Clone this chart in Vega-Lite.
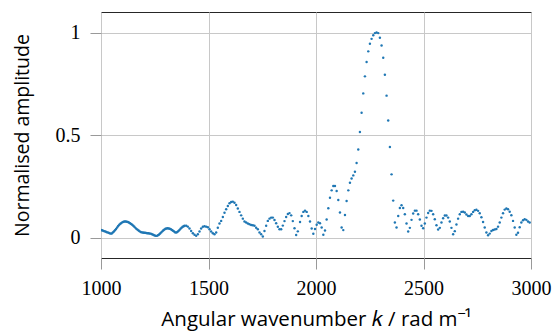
{
"$schema": "https://vega.github.io/schema/vega-lite/v6.json",
"width": 430, "height": 246,
"autosize": "none",
"padding": {"left": 101, "top": 12, "right": 25, "bottom": 75},
"background": "white",
"config": {"view": {"stroke": "#262626", "strokeWidth": 1}},
"data": {"values": [
{"k":1000,"a":0.037},{"k":1005,"a":0.035},{"k":1010,"a":0.033},{"k":1015,"a":0.031},{"k":1020,"a":0.029},{"k":1025,"a":0.027},{"k":1030,"a":0.025},{"k":1035,"a":0.023},{"k":1040,"a":0.021},{"k":1045,"a":0.019},
{"k":1050,"a":0.020},{"k":1055,"a":0.024},{"k":1060,"a":0.029},{"k":1065,"a":0.035},{"k":1070,"a":0.042},{"k":1075,"a":0.049},{"k":1080,"a":0.056},{"k":1085,"a":0.062},{"k":1090,"a":0.067},{"k":1095,"a":0.071},
{"k":1100,"a":0.075},{"k":1105,"a":0.077},{"k":1110,"a":0.078},{"k":1115,"a":0.078},{"k":1120,"a":0.077},{"k":1125,"a":0.076},{"k":1130,"a":0.073},{"k":1135,"a":0.070},{"k":1140,"a":0.066},{"k":1145,"a":0.062},
{"k":1150,"a":0.057},{"k":1155,"a":0.052},{"k":1160,"a":0.047},{"k":1165,"a":0.042},{"k":1170,"a":0.038},{"k":1175,"a":0.034},{"k":1180,"a":0.030},{"k":1185,"a":0.027},{"k":1190,"a":0.025},{"k":1195,"a":0.024},
{"k":1200,"a":0.023},{"k":1205,"a":0.023},{"k":1210,"a":0.022},{"k":1215,"a":0.021},{"k":1220,"a":0.021},{"k":1225,"a":0.020},{"k":1230,"a":0.019},{"k":1235,"a":0.017},{"k":1240,"a":0.015},{"k":1245,"a":0.012},
{"k":1250,"a":0.010},{"k":1255,"a":0.008},{"k":1260,"a":0.008},{"k":1265,"a":0.011},{"k":1270,"a":0.015},{"k":1275,"a":0.020},{"k":1280,"a":0.025},{"k":1285,"a":0.030},{"k":1290,"a":0.035},{"k":1295,"a":0.039},
{"k":1300,"a":0.043},{"k":1305,"a":0.044},{"k":1310,"a":0.045},{"k":1315,"a":0.044},{"k":1320,"a":0.043},{"k":1325,"a":0.040},{"k":1330,"a":0.037},{"k":1335,"a":0.033},{"k":1340,"a":0.029},{"k":1345,"a":0.025},
{"k":1350,"a":0.024},{"k":1355,"a":0.027},{"k":1360,"a":0.032},{"k":1365,"a":0.037},{"k":1370,"a":0.043},{"k":1375,"a":0.048},{"k":1380,"a":0.052},{"k":1385,"a":0.055},
{"k":1388.4,"a":0.057},{"k":1396.2,"a":0.057},{"k":1403.9,"a":0.053},{"k":1411.7,"a":0.044},{"k":1419.4,"a":0.032},{"k":1427.2,"a":0.021},{"k":1434.9,"a":0.013},{"k":1442.7,"a":0.008},{"k":1450.4,"a":0.016},{"k":1458.2,"a":0.029},
{"k":1465.9,"a":0.044},{"k":1473.7,"a":0.052},{"k":1481.4,"a":0.055},{"k":1489.2,"a":0.053},{"k":1496.9,"a":0.050},{"k":1504.7,"a":0.040},{"k":1512.4,"a":0.029},{"k":1520.2,"a":0.021},{"k":1527.9,"a":0.016},{"k":1535.7,"a":0.024},
{"k":1543.4,"a":0.048},{"k":1551.2,"a":0.068},{"k":1558.9,"a":0.081},{"k":1566.7,"a":0.100},{"k":1574.4,"a":0.121},{"k":1582.2,"a":0.138},{"k":1589.9,"a":0.154},{"k":1597.7,"a":0.167},{"k":1605.4,"a":0.173},{"k":1613.2,"a":0.175},
{"k":1620.9,"a":0.170},{"k":1628.7,"a":0.159},{"k":1636.4,"a":0.141},{"k":1644.2,"a":0.125},{"k":1651.9,"a":0.108},{"k":1659.7,"a":0.092},{"k":1667.4,"a":0.078},{"k":1675.2,"a":0.073},{"k":1682.9,"a":0.068},{"k":1690.7,"a":0.065},
{"k":1698.4,"a":0.061},{"k":1706.2,"a":0.060},{"k":1713.9,"a":0.057},{"k":1721.7,"a":0.048},{"k":1729.4,"a":0.040},{"k":1737.2,"a":0.024},{"k":1744.9,"a":0.016},{"k":1752.7,"a":0.005},{"k":1760.4,"a":0.032},{"k":1768.2,"a":0.057},
{"k":1775.9,"a":0.081},{"k":1783.7,"a":0.092},{"k":1791.4,"a":0.097},{"k":1799.2,"a":0.097},
{"k":1807.0,"a":0.085},{"k":1814.7,"a":0.070},{"k":1822.5,"a":0.052},{"k":1830.2,"a":0.040},{"k":1838.0,"a":0.040},{"k":1845.7,"a":0.058},{"k":1853.5,"a":0.080},{"k":1861.2,"a":0.100},{"k":1869.0,"a":0.115},{"k":1876.7,"a":0.119},
{"k":1884.5,"a":0.108},{"k":1892.2,"a":0.080},{"k":1900.0,"a":0.045},{"k":1907.7,"a":0.012},{"k":1915.5,"a":0.030},
{"k":1925.7,"a":0.076},{"k":1933.4,"a":0.105},{"k":1941.2,"a":0.125},{"k":1948.9,"a":0.131},{"k":1956.7,"a":0.125},{"k":1964.4,"a":0.105},{"k":1972.1,"a":0.078},{"k":1979.9,"a":0.044},{"k":1987.6,"a":0.018},{"k":1995.4,"a":0.041},
{"k":2003.1,"a":0.062},{"k":2010.8,"a":0.073},{"k":2018.6,"a":0.070},{"k":2026.3,"a":0.049},{"k":2034.1,"a":0.013},{"k":2041.8,"a":0.034},{"k":2049.5,"a":0.088},{"k":2057.3,"a":0.143},{"k":2065.0,"a":0.194},{"k":2072.8,"a":0.230},
{"k":2080.5,"a":0.251},{"k":2088.2,"a":0.251},{"k":2096.0,"a":0.227},{"k":2103.7,"a":0.183},{"k":2111.5,"a":0.122},{"k":2119.2,"a":0.049},{"k":2126.9,"a":0.036},{"k":2134.7,"a":0.110},{"k":2142.4,"a":0.178},{"k":2150.2,"a":0.230},
{"k":2157.9,"a":0.267},{"k":2165.6,"a":0.288},{"k":2173.4,"a":0.303},{"k":2181.1,"a":0.321},{"k":2188.9,"a":0.363},{"k":2196.6,"a":0.429},{"k":2204.3,"a":0.515},{"k":2212.1,"a":0.609},{"k":2219.8,"a":0.703},{"k":2227.6,"a":0.786},
{"k":2235.3,"a":0.856},{"k":2243.0,"a":0.908},{"k":2250.8,"a":0.945},{"k":2258.5,"a":0.969},{"k":2266.3,"a":0.987},{"k":2274.0,"a":0.997},{"k":2281.7,"a":1.000},{"k":2289.5,"a":0.997},{"k":2297.2,"a":0.974},{"k":2305.0,"a":0.937},
{"k":2312.7,"a":0.877},{"k":2320.4,"a":0.794},{"k":2328.2,"a":0.692},{"k":2335.9,"a":0.571},{"k":2343.7,"a":0.441},{"k":2351.4,"a":0.308},{"k":2359.1,"a":0.180},{"k":2366.9,"a":0.073},{"k":2374.6,"a":0.049},{"k":2382.4,"a":0.105},
{"k":2390.1,"a":0.144},{"k":2397.8,"a":0.157},{"k":2405.6,"a":0.144},{"k":2413.3,"a":0.113},{"k":2421.1,"a":0.068},{"k":2428.8,"a":0.029},{"k":2436.5,"a":0.047},{"k":2444.3,"a":0.086},{"k":2452.0,"a":0.117},{"k":2459.8,"a":0.131},
{"k":2467.5,"a":0.131},{"k":2475.2,"a":0.113},{"k":2483.0,"a":0.088},{"k":2490.7,"a":0.057},{"k":2498.5,"a":0.045},{"k":2506.2,"a":0.068},{"k":2513.9,"a":0.097},{"k":2521.7,"a":0.120},{"k":2529.4,"a":0.131},{"k":2537.2,"a":0.130},
{"k":2544.9,"a":0.113},{"k":2552.6,"a":0.089},{"k":2560.4,"a":0.060},{"k":2568.1,"a":0.039},{"k":2575.9,"a":0.047},{"k":2583.6,"a":0.073},{"k":2591.3,"a":0.094},{"k":2599.1,"a":0.107},{"k":2606.8,"a":0.107},{"k":2614.6,"a":0.097},
{"k":2622.3,"a":0.078},{"k":2630.0,"a":0.047},{"k":2637.8,"a":0.016},{"k":2645.5,"a":0.031},{"k":2653.3,"a":0.063},{"k":2661.0,"a":0.092},{"k":2668.7,"a":0.113},{"k":2676.5,"a":0.125},{"k":2684.2,"a":0.126},{"k":2692.0,"a":0.122},
{"k":2699.7,"a":0.112},{"k":2707.4,"a":0.105},{"k":2715.2,"a":0.105},{"k":2722.9,"a":0.113},{"k":2730.7,"a":0.125},{"k":2738.4,"a":0.133},{"k":2746.1,"a":0.135},{"k":2753.9,"a":0.130},{"k":2761.6,"a":0.118},{"k":2769.4,"a":0.099},
{"k":2777.1,"a":0.076},{"k":2784.8,"a":0.049},{"k":2792.6,"a":0.024},{"k":2800.3,"a":0.011},{"k":2808.1,"a":0.019},{"k":2815.8,"a":0.032},{"k":2823.5,"a":0.037},{"k":2831.3,"a":0.039},{"k":2839.0,"a":0.041},{"k":2846.8,"a":0.053},
{"k":2854.5,"a":0.073},{"k":2862.2,"a":0.097},{"k":2870.0,"a":0.118},{"k":2877.7,"a":0.136},{"k":2885.5,"a":0.141},{"k":2893.2,"a":0.138},{"k":2900.9,"a":0.126},{"k":2908.7,"a":0.109},{"k":2916.4,"a":0.081},{"k":2924.2,"a":0.049},
{"k":2931.9,"a":0.013},{"k":2939.6,"a":0.023},{"k":2947.4,"a":0.050},{"k":2955.1,"a":0.073},{"k":2962.9,"a":0.084},{"k":2970.6,"a":0.089},{"k":2978.3,"a":0.086},{"k":2986.1,"a":0.078},{"k":2993.8,"a":0.073}
]},
"mark": {"type": "point", "filled": true, "size": 6, "color": "#1f77b4", "opacity": 1, "clip": true},
"encoding": {
  "x": {"field": "k", "type": "quantitative",
    "scale": {"domain": [1000, 3000], "nice": false, "zero": false},
    "axis": {"values": [1000, 1500, 2000, 2500, 3000], "format": "d", "labelFlush": false,
      "title": "Angular wavenumber 𝑘 / rad m⁻¹",
      "domain": false, "grid": true, "gridColor": "#c8c8c8", "gridWidth": 1,
      "tickColor": "#999999", "tickSize": 11,
      "labelFont": "Liberation Serif", "labelFontSize": 20, "labelColor": "black", "labelPadding": 9,
      "titleFont": "Open Sans", "titleFontSize": 20.5, "titleFontWeight": "normal", "titleColor": "black", "titlePadding": 11}},
  "y": {"field": "a", "type": "quantitative",
    "scale": {"domain": [-0.1, 1.1], "nice": false, "zero": false},
    "axis": {"values": [0, 0.5, 1], "format": "~g",
      "title": "Normalised amplitude",
      "domain": false, "grid": true, "gridColor": "#c8c8c8", "gridWidth": 1,
      "tickColor": "#999999", "tickSize": 11,
      "labelFont": "Liberation Serif", "labelFontSize": 20, "labelColor": "black", "labelPadding": 10,
      "titleFont": "Open Sans", "titleFontSize": 19.5, "titleFontWeight": "normal", "titleColor": "black", "titlePadding": 23}}
}
}
